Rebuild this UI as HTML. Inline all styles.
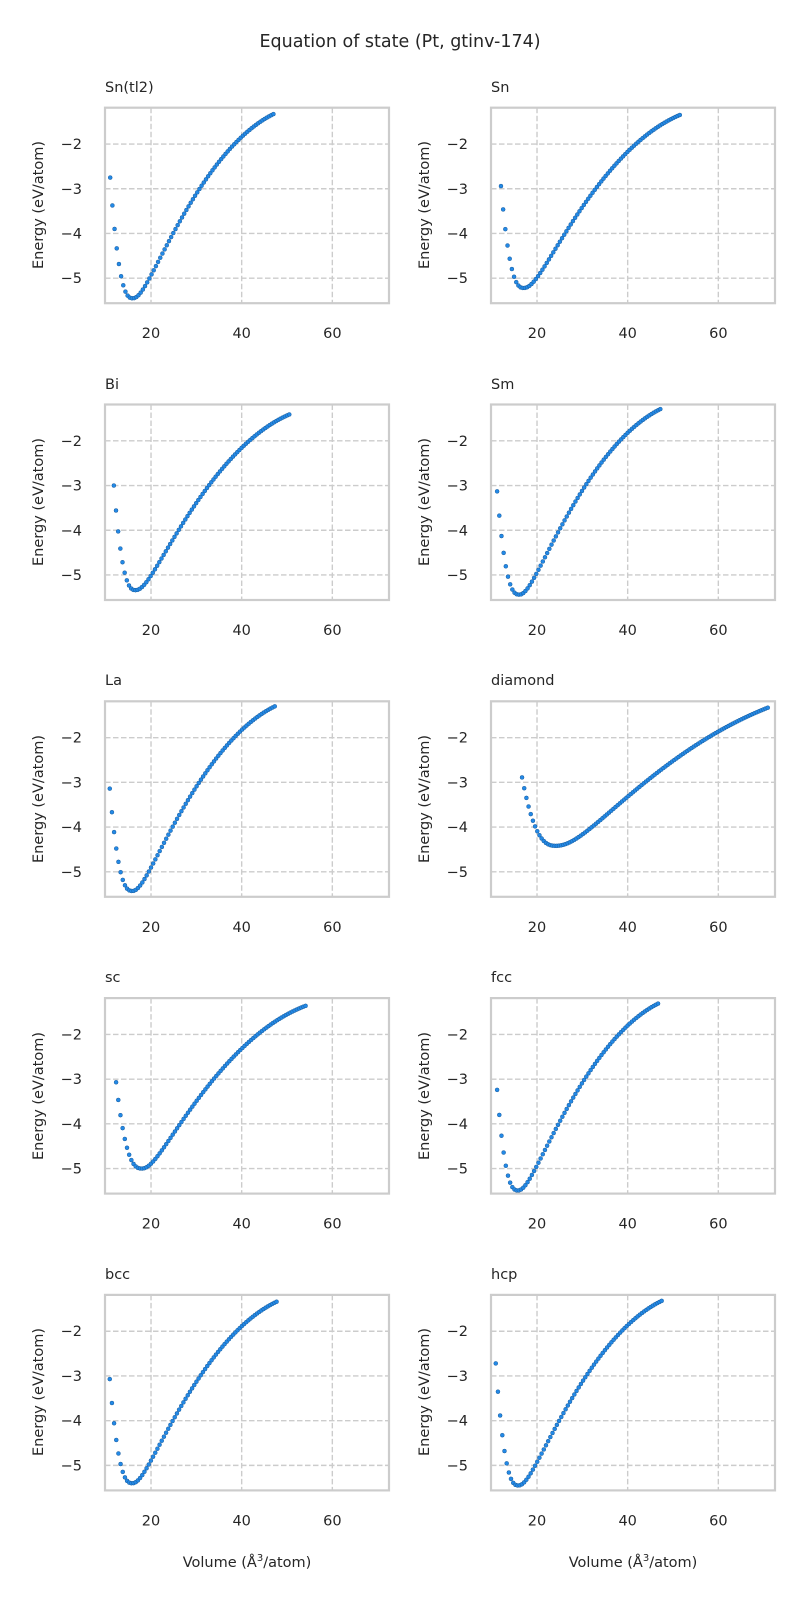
<!DOCTYPE html>
<html><head><meta charset="utf-8">
<style>
html,body{margin:0;padding:0;background:#fff;}
svg{display:block;font-family:"DejaVu Sans","Liberation Sans",sans-serif;fill:#262626;}
text{fill:#262626;}
</style></head>
<body>
<svg id="s" width="800" height="1600" xmlns="http://www.w3.org/2000/svg">
<text x="400" y="47" font-size="17.5" text-anchor="middle">Equation of state (Pt, gtinv-174)</text>
<g id="txt" font-size="14.5">
<text x="105" y="92">Sn(tl2)</text><text x="491" y="92">Sn</text>
<text x="105" y="389">Bi</text><text x="491" y="389">Sm</text>
<text x="105" y="685">La</text><text x="491" y="685">diamond</text>
<text x="105" y="982">sc</text><text x="491" y="982">fcc</text>
<text x="105" y="1279">bcc</text><text x="491" y="1279">hcp</text>
<text x="247" y="1567" text-anchor="middle">Volume (Å<tspan font-size="10" dy="-6">3</tspan><tspan dy="6">/atom)</tspan></text>
<text x="633" y="1567" text-anchor="middle">Volume (Å<tspan font-size="10" dy="-6">3</tspan><tspan dy="6">/atom)</tspan></text>
</g>
<g id="labels" font-size="14.5">
<text transform="translate(43,205) rotate(-90)" text-anchor="middle">Energy (eV/atom)</text>
<text transform="translate(429,205) rotate(-90)" text-anchor="middle">Energy (eV/atom)</text>
<text transform="translate(43,502) rotate(-90)" text-anchor="middle">Energy (eV/atom)</text>
<text transform="translate(429,502) rotate(-90)" text-anchor="middle">Energy (eV/atom)</text>
<text transform="translate(43,799) rotate(-90)" text-anchor="middle">Energy (eV/atom)</text>
<text transform="translate(429,799) rotate(-90)" text-anchor="middle">Energy (eV/atom)</text>
<text transform="translate(43,1096) rotate(-90)" text-anchor="middle">Energy (eV/atom)</text>
<text transform="translate(429,1096) rotate(-90)" text-anchor="middle">Energy (eV/atom)</text>
<text transform="translate(43,1392) rotate(-90)" text-anchor="middle">Energy (eV/atom)</text>
<text transform="translate(429,1392) rotate(-90)" text-anchor="middle">Energy (eV/atom)</text>
</g>
<g id="ticks" font-size="14.5"></g>
<g id="plots"></g>
</svg>
<script>
(function(){
var NS="http://www.w3.org/2000/svg";
var plots=document.getElementById("plots"), ticks=document.getElementById("ticks");
function el(n,a,p){var e=document.createElementNS(NS,n);for(var k in a)e.setAttribute(k,a[k]);(p||plots).appendChild(e);return e;}
var W=284,H=195.5,XL=9.85,XR=72.5,YT=-1.187,YB=-5.56;
// [vmin,emin_left, v0,e0, vmax,emax, w, alpha]
var data=[
 [11,-2.75,16,-5.45,47,-1.33,2.5,0.4],
 [12.05,-2.94,17.1,-5.22,51.5,-1.35,3,0.4],
 [11.8,-3.0,16.6,-5.34,50.5,-1.41,2.8,0.4],
 [11.2,-3.13,16.1,-5.44,47.2,-1.29,2.5,0.4],
 [10.9,-3.14,15.9,-5.43,47.3,-1.3,2.5,0.4],
 [16.7,-2.89,24.2,-4.42,70.9,-1.33,6,0.33],
 [12.3,-3.07,18,-5.0,54.1,-1.36,3,0.4],
 [11.2,-3.24,15.8,-5.49,46.7,-1.31,2.5,0.4],
 [10.9,-3.07,15.9,-5.4,47.7,-1.34,2.5,0.4],
 [10.9,-2.72,15.9,-5.45,47.5,-1.32,2.5,0.4]
];
for(var i=0;i<10;i++){
 var col=i%2,row=Math.floor(i/2);
 var x0=105+col*386,y0=107.7+row*296.8;
 var X=function(v){return x0+(v-XL)/(XR-XL)*W;};
 var Y=function(e){return y0+(YT-e)/(YT-YB)*H;};
 [20,40,60].forEach(function(v){
  el("line",{x1:X(v),x2:X(v),y1:y0,y2:y0+H,stroke:"#cccccc","stroke-width":1.4,"stroke-dasharray":"5.5,2.5"});
  var t=el("text",{x:X(v),y:y0+H+35,"text-anchor":"middle"},ticks);t.textContent=String(v);
 });
 [-2,-3,-4,-5].forEach(function(e){
  el("line",{x1:x0,x2:x0+W,y1:Y(e),y2:Y(e),stroke:"#cccccc","stroke-width":1.4,"stroke-dasharray":"5.5,2.5"});
  var t=el("text",{x:x0-23,y:Y(e)+5,"text-anchor":"end"},ticks);t.textContent="\u2212"+(-e);
 });
 el("rect",{x:x0,y:y0,width:W,height:H,fill:"none",stroke:"#cccccc","stroke-width":2.2});
 var d=data[i],vmin=d[0],el0=d[1],v0=d[2],e0=d[3],vmax=d[4],emax=d[5],w=d[6],al=d[7];
 var p=2.6,c=(el0-e0)/Math.pow(v0-vmin,p),D=vmax-v0;
 var f=function(x){return Math.sqrt(x*x+w*w)-w-al*x*x/D;};
 var A=(emax-e0)/f(D);
 var step=(vmax-vmin)/Math.round((vmax-vmin)/0.48);
 for(var v=vmin;v<=vmax+1e-6;v+=step){
  var e=v<v0? e0+c*Math.pow(v0-v,p) : e0+A*f(v-v0);
  el("circle",{cx:X(v).toFixed(2),cy:Y(e).toFixed(2),r:2.0,fill:"#2389e6",stroke:"#1a5c9c","stroke-width":0.5});
 }
}
})();
</script>
</body></html>
